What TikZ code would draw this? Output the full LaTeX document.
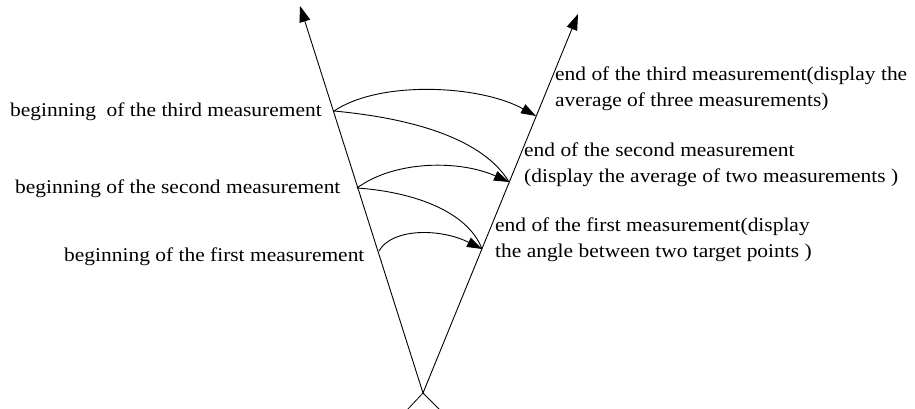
\documentclass[tikz,border=0pt]{standalone}
\usepackage{fontspec}
\setmainfont{Liberation Serif}[FakeStretch=1.1]
\usetikzlibrary{arrows.meta}
\begin{document}
\begin{tikzpicture}[x=1pt,y=-1pt,
  lbl/.style={anchor=base west,inner sep=0pt,font=\fontsize{19.5}{26}\selectfont,align=left},
  axis/.style={line width=0.9pt,-{Triangle[length=16pt,width=11pt]}},
  arc/.style={line width=0.9pt,-{Triangle[length=15pt,width=10pt]}},
  plainarc/.style={line width=0.9pt}]
\useasboundingbox (0,0) rectangle (915,409);
% key points
\coordinate (O) at (423,393);
\coordinate (TL) at (300,6);
\coordinate (TR) at (578,14);
\coordinate (B3) at (334,111);
\coordinate (B2) at (357,188);
\coordinate (B1) at (379,251);
\coordinate (E3) at (536,116);
\coordinate (E2) at (509,182);
\coordinate (E1) at (482,249);
\coordinate (TA) at (407,410);
\coordinate (TB) at (440,410);
% rays
\draw[axis] (O) -- (TL);
\draw[axis] (O) -- (TR);
% instrument triangle
\draw[line width=0.8pt] (TA) -- (O) -- (TB);
% arcs
\draw[arc] (B3) .. controls (380,80) and (480,85) .. (E3);
\draw[plainarc] (B3) .. controls (440,121) and (490,150) .. (E2);
\draw[arc] (B2) .. controls (395,160) and (460,160) .. (E2);
\draw[plainarc] (B2) .. controls (415,192) and (468,212) .. (E1);
\draw[arc] (B1) .. controls (392,228) and (440,228) .. (E1);
% labels
\node[lbl] (L3) at (10,117) {beginning\ \ of the third measurement};
\node[lbl] (L2) at (15,193) {beginning of the second measurement};
\node[lbl] (L1) at (64,261) {beginning of the first measurement};
\node[lbl] (R3) at (555,107) {end of the third measurement(display the\\average of three measurements)};
\node[lbl] (R2) at (524,182) {end of the second measurement\\(display the average of two measurements )};
\node[lbl] (R1) at (495,257) {end of the first measurement(display\\the angle between two target points )};
\end{tikzpicture}
\end{document}
